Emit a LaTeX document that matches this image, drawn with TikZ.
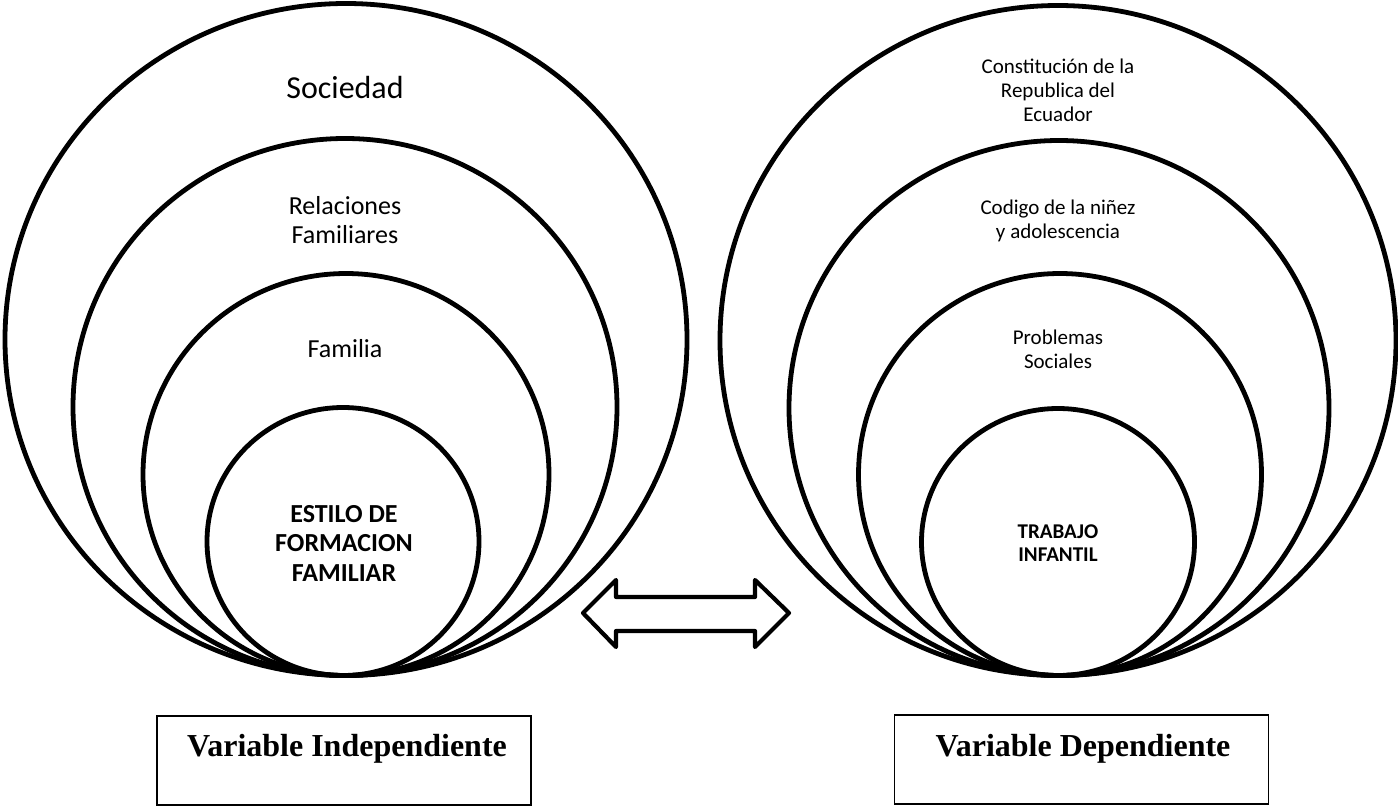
\documentclass[tikz,border=0pt]{standalone}
\usepackage{fontspec}
\setmainfont{Carlito}
\newfontfamily\timesfont{Liberation Serif}
\usetikzlibrary{shapes.geometric}
\tikzset{
  ring/.style={draw, ellipse, line width=4.8pt, inner sep=0pt, outer sep=0pt},
  bigtxt/.style={align=center, inner sep=0pt, font=\fontsize{32}{36}\selectfont},
  midtxt/.style={align=center, inner sep=0pt, font=\fontsize{26}{29}\selectfont},
  midbold/.style={align=center, inner sep=0pt, font=\fontsize{26}{29.5}\selectfont\bfseries},
  smalltxt/.style={align=center, inner sep=0pt, font=\fontsize{21}{24}\selectfont},
  smallbold/.style={align=center, inner sep=0pt, font=\fontsize{21}{23}\selectfont\bfseries},
  varbox/.style={draw, line width=1.3pt, inner sep=0pt, minimum width=374pt, minimum height=89pt},
  vartxt/.style={anchor=base, inner sep=0pt, font=\fontsize{32}{36}\selectfont\timesfont\bfseries},
  dblarrow/.style={draw, line width=4.2pt, line join=round}
}
\begin{document}
\begin{tikzpicture}[x=1pt, y=-1pt]
\useasboundingbox (0,0) rectangle (1398,808);
% left set
\node[ring, minimum width=682pt, minimum height=672pt] (L1) at (346,339.5) {};
\node[ring, minimum width=544pt, minimum height=537pt] (L2) at (345,407) {};
\node[ring, minimum width=406pt, minimum height=402pt] (L3) at (346,474.5) {};
\node[ring, minimum width=272pt, minimum height=268pt] (L4) at (343,541.5) {};
\node[bigtxt] (tL1) at (345,88) {Sociedad};
\node[midtxt] (tL2) at (345,220) {Relaciones\\Familiares};
\node[midtxt] (tL3) at (345,349) {Familia};
\node[midbold] (tL4) at (344,543) {ESTILO DE\\FORMACION\\FAMILIAR};
% right set
\node[ring, minimum width=676pt, minimum height=670pt] (R1) at (1058,340.5) {};
\node[ring, minimum width=540pt, minimum height=535pt] (R2) at (1059,408) {};
\node[ring, minimum width=403pt, minimum height=402pt] (R3) at (1060,474.5) {};
\node[ring, minimum width=273pt, minimum height=267pt] (R4) at (1058,542) {};
\node[smalltxt] (tR1) at (1058,90) {Constitución de la\\Republica del\\Ecuador};
\node[smalltxt] (tR2) at (1058,221) {Codigo de la niñez\\y adolescencia};
\node[smalltxt] (tR3) at (1058,349) {Problemas\\Sociales};
\node[smallbold] (tR4) at (1058,543) {TRABAJO\\INFANTIL};
% double arrow
\draw[dblarrow] (583,613) -- (616,580) -- (616,597) -- (755,597) -- (755,580)
  -- (789,613) -- (755,647) -- (755,631) -- (616,631) -- (616,647) -- cycle;
% boxes
\node[varbox] (bL) at (344,760.5) {};
\node[varbox] (bR) at (1081.5,759.5) {};
\node[vartxt] (vL) at (347,756) {Variable Independiente};
\node[vartxt] (vR) at (1083,756) {Variable Dependiente};
\end{tikzpicture}
\end{document}
